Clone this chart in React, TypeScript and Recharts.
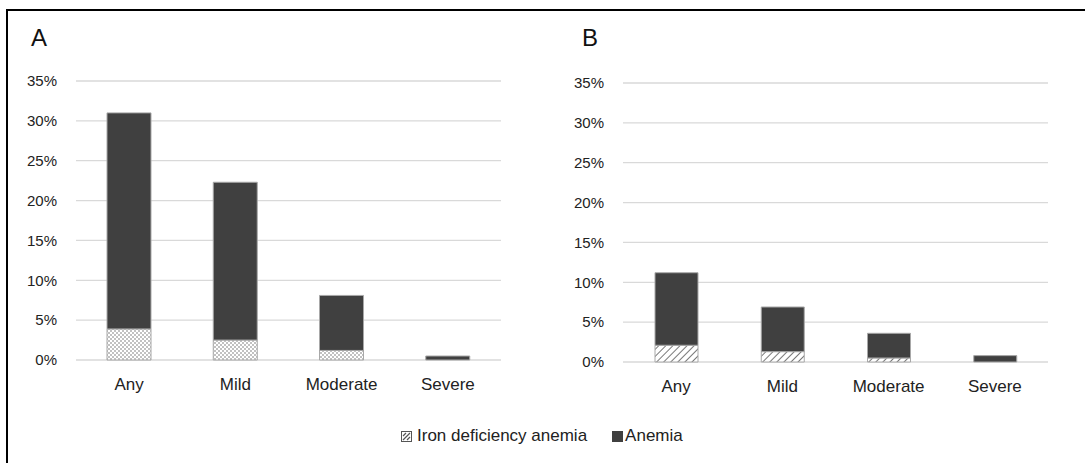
import { BarChart, Bar, XAxis, YAxis, CartesianGrid } from "recharts"

const categories = ["Any", "Mild", "Moderate", "Severe"]
// panel A values (%)
const anemiaA = [31, 22.3, 8.1, 0.5]
const idaA = [3.9, 2.5, 1.2, 0]
// panel B values (%)
const anemiaB = [11.2, 6.9, 3.6, 0.8]
const idaB = [2.1, 1.3, 0.5, 0]
const yTicks = [0, 5, 10, 15, 20, 25, 30, 35]

const font = "'Liberation Sans', Arial, sans-serif"

const build = (anemia: number[], ida: number[]) =>
  categories.map((c, i) => ({ name: c, ida: ida[i], rest: +(anemia[i] - ida[i]).toFixed(2) }))

function Panel({
  data,
  patternId,
  barSize,
}: {
  data: { name: string; ida: number; rest: number }[]
  patternId: string
  barSize: number
}) {
  return (
    <BarChart
      width={510}
      height={330}
      data={data}
      margin={{ top: 11, right: 19, left: 0, bottom: 0 }}
      style={{ fontFamily: font }}
    >
      <defs>
        <pattern id="dots" width="4" height="4" patternUnits="userSpaceOnUse">
          <rect width="4" height="4" fill="#ffffff" />
          <circle cx="1" cy="1" r="0.7" fill="#555" />
          <circle cx="3" cy="3" r="0.7" fill="#555" />
        </pattern>
        <pattern id="hatch" width="5" height="5" patternUnits="userSpaceOnUse" patternTransform="rotate(45)">
          <rect width="5" height="5" fill="#ffffff" />
          <line x1="0" y1="0" x2="0" y2="5" stroke="#555" strokeWidth="1.6" />
        </pattern>
      </defs>
      <CartesianGrid vertical={false} stroke="#d9d9d9" strokeWidth={1.3} />
      <XAxis
        dataKey="name"
        axisLine={false}
        tickLine={false}
        tickMargin={12}
        height={40}
        tick={{ fill: "#222", fontSize: 17 }}
      />
      <YAxis
        domain={[0, 35]}
        ticks={yTicks}
        tickFormatter={(v) => `${v}%`}
        axisLine={false}
        tickLine={false}
        tickMargin={13}
        width={66}
        tick={{ fill: "#222", fontSize: 15 }}
      />
      <Bar
        dataKey="ida"
        stackId="s"
        fill={`url(#${patternId})`}
        stroke="#a8a8a8"
        strokeWidth={1}
        barSize={barSize}
        isAnimationActive={false}
      />
      <Bar
        dataKey="rest"
        stackId="s"
        fill="#404040"
        stroke="#a8a8a8"
        strokeWidth={1}
        barSize={barSize}
        isAnimationActive={false}
      />
    </BarChart>
  )
}

export default function App() {
  return (
    <div style={{ position: "absolute", left: 0, top: 0, width: 1085, height: 463, background: "#fff", overflow: "hidden", fontFamily: font }}>
      <div style={{ position: "absolute", left: 6, top: 9, width: 1085, height: 463, borderLeft: "2px solid #000", borderTop: "2px solid #000" }} />
      <div style={{ position: "absolute", left: 31, top: 24, fontSize: 24, color: "#111" }}>A</div>
      <div style={{ position: "absolute", left: 582, top: 24, fontSize: 24, color: "#111" }}>B</div>
      <div style={{ position: "absolute", left: 10, top: 70 }}>
        <Panel data={build(anemiaA, idaA)} patternId="dots" barSize={44} />
      </div>
      <div style={{ position: "absolute", left: 557, top: 72 }}>
        <Panel data={build(anemiaB, idaB)} patternId="hatch" barSize={43} />
      </div>
      <div style={{ position: "absolute", left: 401, top: 426, display: "flex", alignItems: "center", fontSize: 17, color: "#222" }}>
        <svg width="11" height="11" style={{ marginRight: 5 }}>
          <rect x="0.5" y="0.5" width="10" height="10" fill="#fff" stroke="#555" />
          <line x1="2" y1="9" x2="9" y2="2" stroke="#555" strokeWidth="1.3" />
          <line x1="2" y1="5" x2="5" y2="2" stroke="#555" strokeWidth="1.3" />
          <line x1="6" y1="9" x2="9" y2="6" stroke="#555" strokeWidth="1.3" />
        </svg>
        <span>Iron deficiency anemia</span>
        <svg width="11" height="11" style={{ marginLeft: 25, marginRight: 2 }}>
          <rect x="0" y="0" width="11" height="11" fill="#404040" />
        </svg>
        <span>Anemia</span>
      </div>
    </div>
  )
}
